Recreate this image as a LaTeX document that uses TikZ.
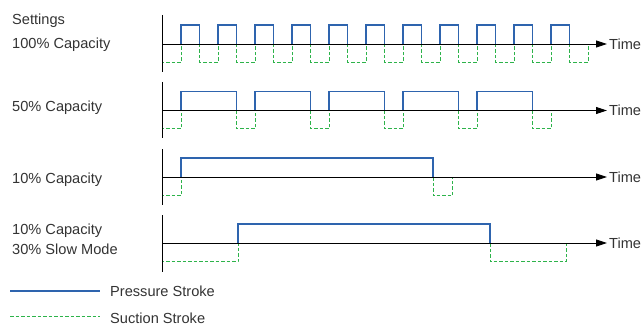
\documentclass[tikz,border=0pt]{standalone}
\usepackage{fontspec}
\setmainfont{Liberation Sans}
\usepackage{tikz}
\usetikzlibrary{arrows.meta}

\definecolor{pressblue}{HTML}{2E64AE}
\definecolor{suctgreen}{HTML}{2DB34A}
\definecolor{labelgray}{HTML}{333333}

\begin{document}
\begin{tikzpicture}[x=1pt, y=-1pt,
    lbl/.style={text=labelgray, font=\fontsize{14.6}{16}\selectfont, inner sep=0pt},
    axis/.style={line width=0.9pt, black},
    timeaxis/.style={axis, -{Triangle[length=11pt, width=7pt]}},
    press/.style={line width=1.2pt, pressblue},
    suct/.style={line width=1pt, suctgreen, dash pattern=on 3.5pt off 2pt}]
    \useasboundingbox (0,0) rectangle (642,326);
    \def\hi{-19}
    \def\lo{18.5}
    % Row labels
    \node[lbl, anchor=west] (settings) at (12,21) {Settings};
    \node[lbl, anchor=west] (cap100) at (12,45) {100\% Capacity};
    \node[lbl, anchor=west] (cap50) at (12,108) {50\% Capacity};
    \node[lbl, anchor=west] (cap10) at (12,180) {10\% Capacity};
    \node[lbl, anchor=west] (slowa) at (12,231) {10\% Capacity};
    \node[lbl, anchor=west] (slowb) at (12,249) {30\% Slow Mode};
    % 100% capacity
    \begin{scope}[shift={(0,44)}]
        \foreach \k in {0,...,11}
            \draw[suct] ({162.5+37*\k},0) -- ({162.5+37*\k},\lo) -- ({181+37*\k},\lo) -- ({181+37*\k},0);
        \foreach \k in {0,...,10}
            \draw[press] ({181+37*\k},0) -- ({181+37*\k},\hi) -- ({199.5+37*\k},\hi) -- ({199.5+37*\k},0);
        \draw[axis] (162,-29) -- (162,28);
        \coordinate (o1) at (162,0);
        \coordinate (t1) at (607,0);
        \draw[timeaxis] (o1) -- (t1);
        \node[lbl, anchor=west] (time1) at ([xshift=2pt]t1) {Time};
    \end{scope}
    % 50% capacity
    \begin{scope}[shift={(0,110.5)}]
        \foreach \k in {0,...,5}
            \draw[suct] ({162.5+74*\k},0) -- ({162.5+74*\k},\lo) -- ({181+74*\k},\lo) -- ({181+74*\k},0);
        \foreach \k in {0,...,4}
            \draw[press] ({181+74*\k},0) -- ({181+74*\k},\hi) -- ({236.5+74*\k},\hi) -- ({236.5+74*\k},0);
        \draw[axis] (162,-28.5) -- (162,27.5);
        \coordinate (o2) at (162,0);
        \coordinate (t2) at (607,0);
        \draw[timeaxis] (o2) -- (t2);
        \node[lbl, anchor=west] (time2) at ([xshift=2pt]t2) {Time};
    \end{scope}
    % 10% capacity
    \begin{scope}[shift={(0,177)}]
        \draw[suct] (162.5,0) -- (162.5,\lo) -- (181,\lo) -- (181,0);
        \draw[suct] (433,0) -- (433,\lo) -- (452.5,\lo) -- (452.5,0);
        \draw[press] (181,0) -- (181,\hi) -- (433,\hi) -- (433,0);
        \draw[axis] (162,-28) -- (162,28);
        \coordinate (o3) at (162,0);
        \coordinate (t3) at (607,0);
        \draw[timeaxis] (o3) -- (t3);
        \node[lbl, anchor=west] (time3) at ([xshift=2pt]t3) {Time};
    \end{scope}
    % 10% capacity, 30% slow mode
    \begin{scope}[shift={(0,243)}]
        \draw[suct] (162.5,0) -- (162.5,\lo) -- (238,\lo) -- (238,0);
        \draw[suct] (490,0) -- (490,\lo) -- (566,\lo) -- (566,0);
        \draw[press] (238,0) -- (238,\hi) -- (490,\hi) -- (490,0);
        \draw[axis] (162,-28) -- (162,29);
        \coordinate (o4) at (162,0);
        \coordinate (t4) at (607,0);
        \draw[timeaxis] (o4) -- (t4);
        \node[lbl, anchor=west] (time4) at ([xshift=2pt]t4) {Time};
    \end{scope}
    % Legend
    \node[lbl, anchor=west] (presslbl) at (110,291) {Pressure Stroke};
    \node[lbl, anchor=west] (suctlbl) at (110,318) {Suction Stroke};
    \coordinate (pa) at (10,291);
    \coordinate (pb) at (100,291);
    \coordinate (sa) at (10,316);
    \coordinate (sb) at (100,316);
    \draw[press, line width=1.5pt] (pa) -- (pb);
    \draw[suct] (sa) -- (sb);
\end{tikzpicture}
\end{document}
